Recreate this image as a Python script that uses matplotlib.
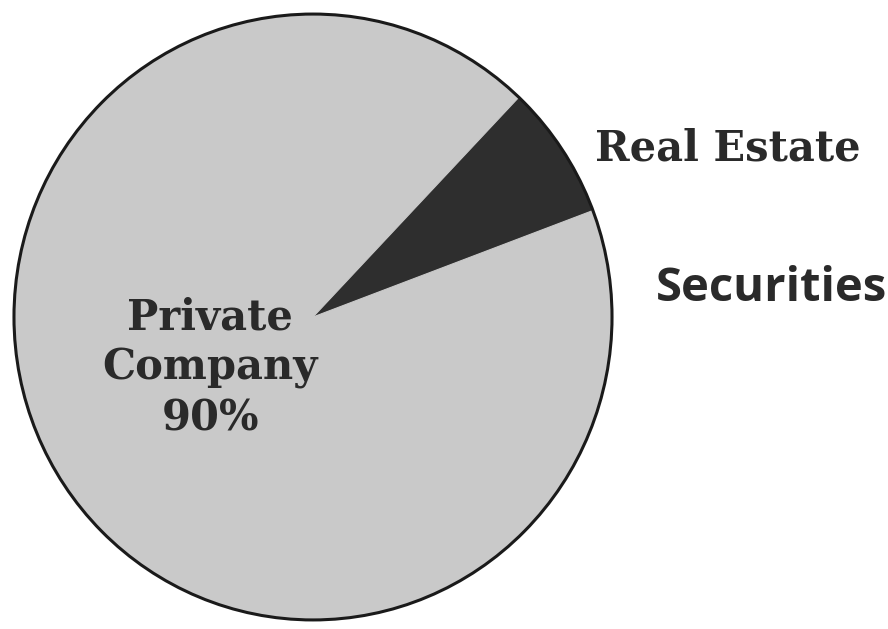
import matplotlib.pyplot as plt
from matplotlib.patches import Circle

# slices, clockwise from the top-right edge
labels = ['Real Estate', 'Securities', 'Private Company']
shares = [7.2, 2.8, 90.0]
colors = ['#2e2e2e', '#c9c9c9', '#c9c9c9']

fig = plt.figure(figsize=(8.88, 6.29), dpi=100)
fig.patch.set_facecolor('white')

# pie centre ~ (313, 318) px, radius ~ 305 px
ax = fig.add_axes([8 / 888, 3 / 629, 610 / 888, 618 / 629])
wedges, _ = ax.pie(shares, colors=colors, startangle=46.5, counterclock=False,
                   radius=1.0, wedgeprops=dict(linewidth=0.8))
for w in wedges:
    w.set_edgecolor(w.get_facecolor())
ax.add_patch(Circle((0, 0), 1.0, fill=False, edgecolor='#1a1a1a', linewidth=2.2))
ax.set_xlim(-1.02, 1.02)
ax.set_ylim(-1.02, 1.02)
ax.set_aspect('auto')
ax.axis('off')

# labels in figure pixel coordinates
def px(x, y):
    return x / 888, 1 - y / 629

fig.text(*px(210, 368), 'Private\nCompany\n90%', ha='center', va='center',
         fontsize=30, fontweight='bold', family='DejaVu Serif', color='#2a2a2a',
         linespacing=1.25)
fig.text(*px(728, 148), 'Real Estate', ha='center', va='center',
         fontsize=30, fontweight='bold', family='DejaVu Serif', color='#2a2a2a')
fig.text(*px(771, 288), 'Securities', ha='center', va='center',
         fontsize=34, fontweight='bold', family='Open Sans', color='#2a2a2a')

fig.savefig('out.png', dpi=100)
